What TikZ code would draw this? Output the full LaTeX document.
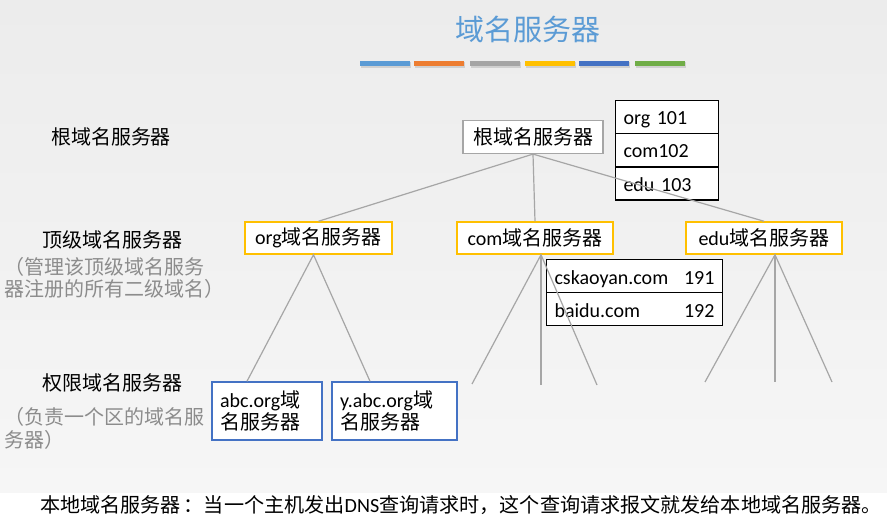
\documentclass[tikz,border=0pt]{standalone}
\usepackage{fontspec}
\setmainfont{Carlito}
\newfontfamily\cjk{Noto Sans CJK SC}
\definecolor{titleblue}{HTML}{5B9BD5}
\definecolor{barorange}{HTML}{ED7D31}
\definecolor{bargray}{HTML}{A5A5A5}
\definecolor{baryellow}{HTML}{FFC000}
\definecolor{barblue}{HTML}{4472C4}
\definecolor{bargreen}{HTML}{70AD47}
\definecolor{linegray}{HTML}{A6A6A6}
\definecolor{notegray}{HTML}{8C8C8C}
\definecolor{slidetop}{HTML}{ECECEC}
\definecolor{slidebot}{HTML}{F6F6F6}

\begin{document}
\begin{tikzpicture}[x=1pt, y=-1pt,
  every node/.style={font=\fontsize{20}{22}\selectfont},
  label/.style={font=\cjk\fontsize{20}{22}\selectfont, inner sep=0pt},
  note/.style={label, text=notegray, anchor=west},
  rootbox/.style={draw=linegray, line width=1.2pt, fill=white, inner sep=0pt,
    minimum width=140pt, minimum height=33pt, font=\cjk\fontsize{20}{22}\selectfont},
  tldbox/.style={draw=baryellow, line width=1.5pt, fill=white, inner sep=0pt,
    minimum height=32pt},
  authbox/.style={draw=barblue, line width=1.5pt, fill=white, inner xsep=8pt,
    inner ysep=0pt, minimum height=58pt, align=left},
  row/.style={draw=black, line width=1.2pt, fill=white, inner xsep=8pt,
    inner ysep=0pt, minimum height=33pt, align=left,
    text height=18pt, text depth=2pt},
  link/.style={draw=linegray, line width=1.2pt}]
  \useasboundingbox (0,0) rectangle (887,524);
  \shade[top color=slidetop, bottom color=slidebot] (0,0) rectangle (887,492);

  % title and colour bars
  \node (T) at (528,29) {\cjk\fontsize{29}{32}\selectfont\color{titleblue}域名服务器};
  \foreach \x/\c in {360/titleblue, 414/barorange, 470/bargray,
                     525/baryellow, 579/barblue, 635/bargreen} {
    \fill[black, opacity=0.12] (\x+1,62.5) rectangle (\x+51,68);
    \fill[\c] (\x,61) rectangle (\x+50,66);
  }

  % level labels
  \node[label] (L1) at (111,137) {根域名服务器};
  \node[label] (L2) at (112,240) {顶级域名服务器};
  \node[note] (L2a) at (4,267) {（管理该顶级域名服务};
  \node[note] (L2b) at (4,289) {器注册的所有二级域名）};
  \node[label] (L3) at (112,383) {权限域名服务器};
  \node[note] (L3a) at (4,417) {（负责一个区的域名服};
  \node[note] (L3b) at (4,440) {务器）};

  % servers
  \node[rootbox] (R) at (533,137) {根域名服务器};
  \node[row, text width=87pt] (R1) at (667,117) {org 101};
  \node[row, text width=87pt] (R2) at (667,150) {com102};
  \node[row, text width=87pt] (R3) at (667,183.5) {edu 103};

  \node[tldbox, minimum width=147pt] (O) at (318.5,238) {org{\cjk 域名服务器}};
  \node[tldbox, minimum width=156pt] (C) at (535,238) {com{\cjk 域名服务器}};
  \node[tldbox, minimum width=156pt] (E) at (764,238) {edu{\cjk 域名服务器}};

  \node[row, text width=160pt] (C1) at (634.5,276) {cskaoyan.com\hfill 191\hspace*{6pt}};
  \node[row, text width=160pt] (C2) at (634.5,309) {baidu.com\hfill 192\hspace*{6pt}};

  \node[authbox, text width=94pt] (A) at (267,411)
    {abc.org{\cjk 域}\\{\cjk 名服务器}};
  \node[authbox, text width=109pt] (Y) at (394.5,411)
    {y.abc.org{\cjk 域}\\{\cjk 名服务器}};

  % free ends below com and edu
  \coordinate (C0) at (472,384); \coordinate (CC) at (541,385);
  \coordinate (C9) at (597,385);
  \coordinate (E0) at (705,382); \coordinate (EE) at (775,382);
  \coordinate (E9) at (832,382);

  \draw[link] (O.north) -- (R.south) -- (E.north);
  \draw[link] (R.south) -- (C.north);
  \draw[link] ([xshift=-20pt]A.north) -- ([xshift=-5pt]O.south) -- ([xshift=-24.5pt]Y.north);
  \draw[link] (C0) -- ([xshift=6pt]C.south) -- (C9);
  \draw[link] ([xshift=6pt]C.south) -- (CC);
  \draw[link] (E0) -- ([xshift=11pt]E.south) -- (E9);
  \draw[link] ([xshift=11pt]E.south) -- (EE);

  % local name server note
  \node[anchor=west, inner sep=0pt] (N) at (40,505)
    {\cjk\fontsize{20.1}{22}\selectfont 本地域名服务器\hspace{3pt}：当一个主机发出{\rmfamily DNS}查询请求时，这个查询请求报文就发给本地域名服务器。};
\end{tikzpicture}
\end{document}
